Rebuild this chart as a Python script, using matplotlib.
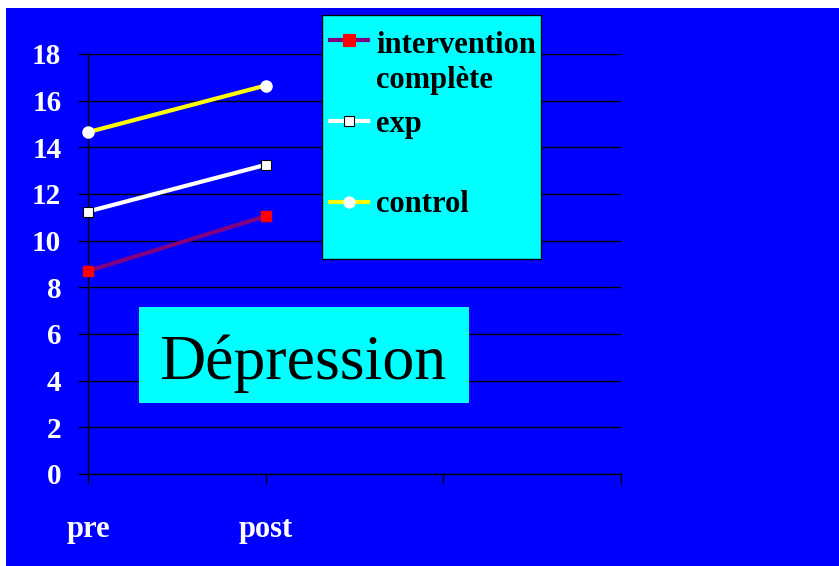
import matplotlib
matplotlib.use('Agg')
import matplotlib.pyplot as plt
from matplotlib.patches import Rectangle
from matplotlib.lines import Line2D

# données
categories = ['pre', 'post', '', '']
intervention = [8.7, 11.05]
exp = [11.25, 13.25]
control = [14.65, 16.65]
yticks = list(range(0, 19, 2))
legend_labels = ['intervention', 'complète', 'exp', 'control']

BLUE = '#0000FF'
CYAN = '#00FFFF'
W, H = 839, 566
SERIF = 'Liberation Serif'


def fx(px):
    return px / W


def fy(py):
    return 1 - py / H


fig = plt.figure(figsize=(W / 100, H / 100), dpi=100)
fig.patch.set_facecolor('white')
# fond bleu de la diapo
fig.add_artist(Rectangle((fx(6), 0), 1 - fx(6), fy(8), transform=fig.transFigure,
                         facecolor=BLUE, edgecolor='none', zorder=-1))

ax = fig.add_axes([fx(88), fy(474), fx(621) - fx(88), fy(54) - fy(474)])
ax.set_facecolor('none')

x = range(len(intervention))
ax.plot(x, intervention, color='#800080', lw=3, marker='s', ms=7.5,
        mfc='red', mec='red', zorder=3, clip_on=False)
ax.plot(x, exp, color='white', lw=3, marker='s', ms=7,
        mfc='white', mec='black', mew=0.8, zorder=3, clip_on=False)
ax.plot(x, control, color='yellow', lw=3, marker='o', ms=8,
        mfc='white', mec='white', zorder=3, clip_on=False)

ax.set_xlim(0, len(categories) - 1)
ax.set_ylim(0, 18)
ax.set_xticks(range(len(categories)))
ax.set_xticklabels(categories)
ax.set_yticks(yticks)
ax.grid(axis='y', color='black', lw=1)
ax.set_axisbelow(True)
for s in ['top', 'right']:
    ax.spines[s].set_visible(False)
for s in ['left', 'bottom']:
    ax.spines[s].set_color('black')
    ax.spines[s].set_linewidth(1)
ax.tick_params(axis='both', direction='out', length=7.2, width=1, color='black',
               labelcolor='white')
ax.tick_params(axis='y', pad=12)
ax.tick_params(axis='x', pad=22)
for lab in ax.get_yticklabels():
    lab.set_fontfamily(SERIF)
    lab.set_fontweight('bold')
    lab.set_fontsize(21)
for lab in ax.get_xticklabels():
    lab.set_fontfamily(SERIF)
    lab.set_fontweight('bold')
    lab.set_fontsize(22)

# légende
fig.add_artist(Rectangle((fx(322), fy(259)), fx(541) - fx(322), fy(15) - fy(259),
                         transform=fig.transFigure, facecolor=CYAN,
                         edgecolor='black', lw=1, zorder=2))
handles = [
    dict(color='#800080', marker='s', mfc='red', mec='red', ms=8, y=40),
    dict(color='white', marker='s', mfc='white', mec='black', ms=7, y=121),
    dict(color='yellow', marker='o', mfc='white', mec='white', ms=8, y=202),
]
for h in handles:
    yy = fy(h.pop('y'))
    fig.add_artist(Line2D([fx(330), fx(368)], [yy, yy], lw=3, transform=fig.transFigure,
                          zorder=3, color=h['color']))
    fig.add_artist(Line2D([fx(349)], [yy], lw=0, transform=fig.transFigure, zorder=4,
                          marker=h['marker'], mfc=h['mfc'], mec=h['mec'], ms=h['ms'],
                          mew=0.8))
for lab, base in zip(legend_labels, [53, 88, 132, 212]):
    fig.text(fx(376), fy(base), lab, fontfamily=SERIF, fontweight='bold', fontsize=22,
             color='black', va='baseline', ha='left', zorder=5)

# encadré Dépression
fig.add_artist(Rectangle((fx(139), fy(403)), fx(469) - fx(139), fy(307) - fy(403),
                         transform=fig.transFigure, facecolor=CYAN, edgecolor='none',
                         zorder=2))
fig.text(fx(303), fy(379), 'Dépression', fontfamily=SERIF, fontsize=46, color='black',
         ha='center', va='baseline', zorder=5)

fig.savefig('out.png', dpi=100)
